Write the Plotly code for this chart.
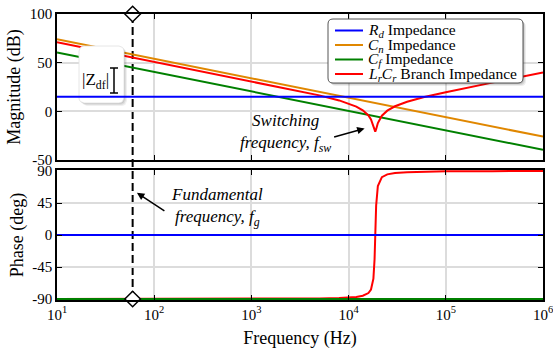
import math
import plotly.graph_objects as go

# ---------------- data ----------------
freq_rd = [10, 1e6]
mag_rd = [15, 15]
ph_rd = [0, 0]

freq_cn = [10, 1e6]
mag_cn = [74, -26]
ph_cn = [-90, -90]

freq_cf = [10, 1e6]
mag_cf = [60.5, -39.5]
ph_cf = [-90, -90]

freq_lc = [10, 100, 200, 1000, 2000, 3000, 5000, 8000, 10000, 12000, 14000, 16000,
           17000, 18000, 18500, 18800, 19200, 20000, 22000, 25000, 30000, 40000,
           60000, 100000, 300000, 1000000]
mag_lc = [71.0, 51.0, 45.0, 31.0, 24.9, 21.2, 16.4, 11.2, 8.1, 4.9, 1.0, -4.3,
          -8.4, -14.5, -19.3, -20.9, -18.4, -12.0, -4.5, 0.7, 5.2, 9.9,
          14.7, 19.7, 29.5, 40.0]
ph_lc = [-90.0, -89.99, -89.97, -89.85, -89.7, -89.5, -89.2, -88.6, -88.0, -87.1, -85.4, -81.6,
         -76.7, -61.3, -33.9, 0.0, 41.3, 68.9, 81.4, 85.3, 87.2, 88.3,
         89.0, 89.5, 89.8, 89.95]

f_g = 60
f_marker_mag = [100]
f_marker_ph = [-90]

x_tickvals = [10, 100, 1000, 1e4, 1e5, 1e6]
x_ticktext = ["10<sup>1</sup>", "10<sup>2</sup>", "10<sup>3</sup>",
              "10<sup>4</sup>", "10<sup>5</sup>", "10<sup>6</sup>"]
mag_ticks = [-50, 0, 50, 100]
mag_ticktext = ["-50", "0", "50", "100"]
ph_ticks = [-90, -45, 0, 45, 90]
ph_ticktext = ["-90", "-45", "0", "45", "90"]

names = ["<i>R<sub>d</sub></i> Impedance", "<i>C<sub>n</sub></i> Impedance",
         "<i>C<sub>f</sub></i> Impedance", "<i>L<sub>r</sub>C<sub>r</sub></i> Branch Impedance"]
colors = ["#0000ff", "#e08700", "#008000", "#ff0000"]

FONT = "Liberation Serif, DejaVu Serif, serif"

# ---------------- layout geometry (pixels) ----------------
W_L, W_R, P_T, P_B = 57, 543, 14, 300
MAG_T, MAG_B = 14, 160
PH_T, PH_B = 170, 300
MAG_RANGE = [-50, 100]
PH_RANGE = [-91.4, 91.4]


def px(x):
    return (x - W_L) / (W_R - W_L)


def py(y):
    return (P_B - y) / (P_B - P_T)


def p2f(x):
    return 10 ** (1 + 5 * (x - W_L) / (W_R - W_L))


def p2db(y):
    return MAG_RANGE[1] - (MAG_RANGE[1] - MAG_RANGE[0]) * (y - MAG_T) / (MAG_B - MAG_T)


def rrect_pts(x0, y0, x1, y1, r=5, n=5):
    pts = []
    corners = [(x1 - r, y0 + r, -90), (x1 - r, y1 - r, 0), (x0 + r, y1 - r, 90), (x0 + r, y0 + r, 180)]
    for cx, cy, a0 in corners:
        for k in range(n):
            a = math.radians(a0 + 90 * k / (n - 1))
            pts.append((cx + r * math.cos(a), cy + r * math.sin(a)))
    pts.append(pts[0])
    return [p2f(p[0]) for p in pts], [p2db(p[1]) for p in pts]


def rrect_path(x0, y0, x1, y1, r=5):
    rx = r / (W_R - W_L)
    ry = r / (P_B - P_T)
    X0, X1 = px(x0), px(x1)
    Y0, Y1 = py(y0), py(y1)
    return (f"M {X0+rx},{Y0} L {X1-rx},{Y0} Q {X1},{Y0} {X1},{Y0-ry} "
            f"L {X1},{Y1+ry} Q {X1},{Y1} {X1-rx},{Y1} L {X0+rx},{Y1} "
            f"Q {X0},{Y1} {X0},{Y1+ry} L {X0},{Y0-ry} Q {X0},{Y0} {X0+rx},{Y0} Z")


# ---------------- figure ----------------
fig = go.Figure()

# magnitude: Cn, Cf, LrCr, then the |Zdf| box, then Rd on top
for fx, fy, c in [(freq_cn, mag_cn, colors[1]), (freq_cf, mag_cf, colors[2]),
                  (freq_lc, mag_lc, colors[3])]:
    fig.add_trace(go.Scatter(x=fx, y=fy, mode="lines", line=dict(color=c, width=2),
                             xaxis="x", yaxis="y", showlegend=False, hoverinfo="skip"))

BOX = (79, 46, 124, 103)
for off, op in [(3, 0.06), (2, 0.08), (1, 0.10)]:
    bx, by = rrect_pts(BOX[0] + off, BOX[1] + off, BOX[2] + off, BOX[3] + off)
    fig.add_trace(go.Scatter(x=bx, y=by, mode="lines", fill="toself",
                             fillcolor=f"rgba(0,0,0,{op})", line=dict(width=0),
                             xaxis="x", yaxis="y", showlegend=False, hoverinfo="skip"))
bx, by = rrect_pts(*BOX)
fig.add_trace(go.Scatter(x=bx, y=by, mode="lines", fill="toself", fillcolor="white",
                         line=dict(width=0.8, color="#e0e0e0"),
                         xaxis="x", yaxis="y", showlegend=False, hoverinfo="skip"))

fig.add_trace(go.Scatter(x=freq_rd, y=mag_rd, mode="lines", line=dict(color=colors[0], width=2),
                         xaxis="x", yaxis="y", showlegend=False))

# phase: red drawn first so that green sits on top at -90
for fx, fy, c in [(freq_lc, ph_lc, colors[3]), (freq_rd, ph_rd, colors[0]),
                  (freq_cn, ph_cn, colors[1]), (freq_cf, ph_cf, colors[2])]:
    fig.add_trace(go.Scatter(x=fx, y=fy, mode="lines", line=dict(color=c, width=2),
                             xaxis="x2", yaxis="y2", showlegend=False))

# diamonds on fundamental frequency line
for xa, ya, yv in [("x", "y", f_marker_mag), ("x2", "y2", f_marker_ph)]:
    fig.add_trace(go.Scatter(x=[f_g], y=yv, mode="markers", xaxis=xa, yaxis=ya,
                             marker=dict(symbol="diamond", size=12, color="white",
                                         line=dict(color="black", width=1.5)),
                             showlegend=False, cliponaxis=False))

shapes = []
annotations = []

# dashed fundamental frequency line
shapes.append(dict(type="line", xref="x", yref="paper", x0=f_g, x1=f_g, y0=py(PH_B - 1), y1=1,
                   line=dict(color="black", width=2, dash="8px,4px"), layer="between"))

# legend box with shadow
LEG = (328, 19, 523, 83)
for off, op in [(3, 0.07), (2, 0.09), (1, 0.12)]:
    shapes.append(dict(type="path", xref="paper", yref="paper",
                       path=rrect_path(LEG[0] + off, LEG[1] + off, LEG[2] + off, LEG[3] + off),
                       fillcolor=f"rgba(0,0,0,{op})", line=dict(width=0), layer="above"))
shapes.append(dict(type="path", xref="paper", yref="paper", path=rrect_path(*LEG),
                   fillcolor="white", line=dict(color="#555555", width=1), layer="above"))

row_y = [30.5, 45, 59.5, 74]
for nm, c, ry in zip(names, colors, row_y):
    shapes.append(dict(type="line", xref="paper", yref="paper", x0=px(335), x1=px(363),
                       y0=py(ry), y1=py(ry), line=dict(color=c, width=2), layer="above"))
    annotations.append(dict(text=nm, xref="paper", yref="paper", x=px(366), y=py(ry),
                            xanchor="left", yanchor="middle", showarrow=False,
                            font=dict(family=FONT, size=15.5, color="black")))

# I-beam for |Z_df|
ib_x = p2f(114)
ib_top = p2db(68)
ib_bot = p2db(93)
shapes.append(dict(type="line", xref="x", yref="y", x0=ib_x, x1=ib_x, y0=ib_bot, y1=ib_top,
                   line=dict(color="black", width=1.5), layer="above"))
for yy in (ib_bot, ib_top):
    shapes.append(dict(type="line", xref="x", yref="y", x0=p2f(110), x1=p2f(118),
                       y0=yy, y1=yy, line=dict(color="black", width=1.5), layer="above"))

annotations += [
    dict(text="|Z<sub>df</sub>|", xref="paper", yref="paper", x=px(110.5), y=py(81),
         xanchor="right", yanchor="middle",
         showarrow=False, font=dict(family=FONT, size=17, color="black")),
    dict(text="<i>Switching<br>frequency, f<sub>sw</sub></i>", xref="x", yref="y",
         x=3.35, y=-22.5, showarrow=False, align="center",
         font=dict(family=FONT, size=17, color="black")),
    dict(text=" ", xref="x", yref="y", x=4.165, y=-17.6, ax=-32, ay=9,
         showarrow=True, arrowhead=2, arrowsize=1, arrowwidth=1.5, arrowcolor="black",
         font=dict(size=1)),
    dict(text="<i>Fundamental<br>frequency, f<sub>g</sub></i>", xref="x2", yref="y2",
         x=2.65, y=39, showarrow=False, align="center",
         font=dict(family=FONT, size=17, color="black")),
    dict(text=" ", xref="x2", yref="y2", x=1.822, y=59.3, ax=29, ay=19,
         showarrow=True, arrowhead=2, arrowsize=1, arrowwidth=1.5, arrowcolor="black",
         font=dict(size=1)),
]

axis_common = dict(type="log", range=[1, 6], showline=True, linecolor="black", linewidth=1.5,
                   mirror="ticks", ticks="inside", ticklen=5, tickwidth=1.2, tickcolor="black",
                   showgrid=True, gridcolor="#dcdcdc", gridwidth=1.5, automargin=False,
                   ticklabeloverflow="allow",
                   tickvals=x_tickvals, ticktext=x_ticktext, zeroline=False,
                   tickfont=dict(family=FONT, size=15, color="black"))
yax_common = dict(showline=True, linecolor="black", linewidth=1.5, mirror="ticks",
                  ticks="inside", ticklen=5, tickwidth=1.2, tickcolor="black",
                  showgrid=True, gridcolor="#dcdcdc", gridwidth=1.5, zeroline=False,
                  automargin=False, ticklabeloverflow="allow",
                  tickfont=dict(family=FONT, size=15, color="black"))

fig.update_layout(
    width=553, height=349,
    margin=dict(l=W_L, r=553 - W_R, t=P_T, b=349 - P_B),
    paper_bgcolor="white", plot_bgcolor="white",
    font=dict(family=FONT, size=15, color="black"),
    xaxis=dict(**axis_common, anchor="y", showticklabels=False, matches="x2"),
    xaxis2=dict(**axis_common, anchor="y2",
                title=dict(text="Frequency (Hz)", standoff=11,
                           font=dict(family=FONT, size=18, color="black"))),
    yaxis=dict(**yax_common, domain=[py(MAG_B), py(MAG_T)], range=MAG_RANGE,
               tickvals=mag_ticks, ticktext=mag_ticktext, anchor="x",
               title=dict(text="Magnitude (dB)", standoff=4,
                          font=dict(family=FONT, size=18, color="black"))),
    yaxis2=dict(**yax_common, domain=[py(PH_B), py(PH_T)], range=PH_RANGE,
                tickvals=ph_ticks, ticktext=ph_ticktext, anchor="x2",
                title=dict(text="Phase (deg)", standoff=4,
                           font=dict(family=FONT, size=18, color="black"))),
    shapes=shapes,
    annotations=annotations,
    showlegend=False,
)

fig.write_html("out.html")
